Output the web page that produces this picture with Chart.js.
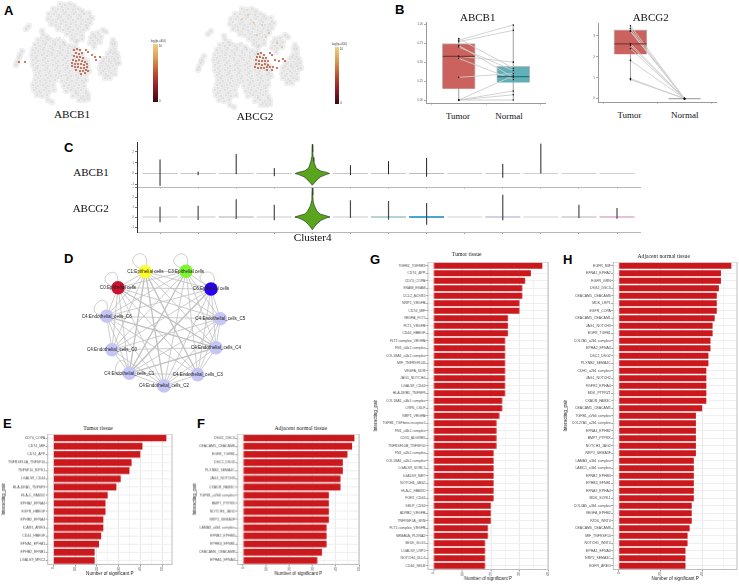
<!DOCTYPE html>
<html>
<head>
<meta charset="utf-8">
<title>ABCB1 and ABCG2</title>
<script src="https://cdn.jsdelivr.net/npm/chart.js@4"></script>
<style>
    html, body { margin: 0; padding: 0; background: #fff; }
    #page { position: relative; width: 739px; height: 584px; overflow: hidden; }
    #page canvas { position: absolute; }
    .txt { position: absolute; white-space: nowrap; line-height: 1; transform: translate(-50%, -50%); color: #111; }
    .serif { font-family: "Liberation Serif", serif; }
    .letter { font: bold 13px "Liberation Sans", sans-serif; transform: none; color: #000; }
    .bar-title { font-size: 5.7px; color: #222; }
    .tiny { font: 3px "Liberation Sans", sans-serif; color: #444; }
    .colorbar { position: absolute; width: 4.5px; background: linear-gradient(#f0cf85, #d99a55 25%, #b9512f 50%, #96202a 72%, #3a0a12); }
</style>
</head>
<body>
<div id="page"></div>
<script>
// Panel A: t-SNE map
const tsnePoints = [
    [60,4],[65,5],[70,4],[74,6],[53,9],[58,9],[63,10],[68,9],[73,10],[78,9],[82,11],
    [49,14],[54,14],[59,15],[64,14],[69,15],[74,14],[79,15],[84,14],[89,13],
    [48,19],[53,20],[58,19],[63,20],[68,19],[73,20],[78,19],[83,20],[88,19],[92,18],
    [51,24],[56,25],[61,24],[66,25],[71,24],[76,25],[81,24],[86,25],[90,23],
    [58,29],[63,30],[68,29],[73,30],[78,29],[83,30],[87,28],[67,34],[72,35],[77,34],[82,35],
    [72,39],[77,40],[82,39],[76,42],
    [93,34],[98,33],[91,38],[96,38],[101,37],[90,43],[95,43],[100,42],[94,47],
    [103,30],[106,32],[113,40],[115,44],[112,44],
    [111,50],[115,49],[108,54],[113,54],[117,54],[104,59],[109,59],[114,59],[118,58],
    [101,63],[106,64],[111,63],[116,64],[119,63],[100,68],[105,69],[110,68],[115,69],
    [101,73],[106,74],[111,73],[115,74],[105,78],[110,78],
    [43,35],[47,37],[38,40],[43,41],[48,40],[53,41],[58,40],[63,42],
    [35,45],[40,46],[45,45],[50,46],[55,45],[60,46],[65,45],[70,46],[75,47],
    [33,50],[38,51],[43,50],[48,51],[53,50],[58,51],[63,50],[68,51],[73,50],[78,50],
    [32,55],[37,56],[42,55],[47,56],[52,55],[57,56],[62,55],[67,56],[72,55],[77,56],[82,55],
    [33,60],[38,61],[43,60],[48,61],[53,60],[58,61],[63,60],[68,61],[73,60],[78,61],[83,60],[87,61],
    [33,65],[38,66],[43,65],[48,66],[53,65],[58,66],[63,65],[68,66],[73,65],[78,66],[83,65],[88,66],
    [35,70],[40,71],[45,70],[50,71],[55,70],[60,71],[65,70],[70,71],[75,70],[80,71],[85,70],[89,71],
    [36,75],[41,76],[46,75],[51,76],[56,75],[61,76],[66,75],[71,76],[76,75],[81,76],[86,75],
    [35,80],[40,81],[45,80],[50,81],[55,80],[62,81],[67,80],[72,81],[77,80],[82,81],[86,80],
    [33,85],[38,86],[43,85],[48,86],[53,85],[64,86],[69,85],[74,86],[79,85],[84,86],
    [34,90],[39,91],[44,90],[49,91],[54,90],[66,91],[71,90],[76,91],[81,90],[86,91],
    [37,95],[42,96],[47,95],[73,96],[78,95],[83,96],[88,95],[79,100],[84,100],[88,99],[48,100],[52,102],
    [22,51],[20,55],[19,58],[17,62],[16,65],[26,29],[29,26],[42,31]
];
const tsneSpecks = [
    [62,7],[56,12],[66,12],[76,12],[51,17],[61,17],[71,17],[81,17],[90,16],[56,22],[66,22],[76,22],[86,22],
    [60,27],[70,27],[80,27],[70,32],[80,32],[75,37],[95,36],[93,41],[98,40],[110,52],[115,52],[106,57],[112,57],
    [103,61],[109,61],[115,61],[102,66],[108,66],[113,66],[103,71],[109,71],[108,76],
    [41,38],[51,38],[60,38],[38,43],[46,43],[55,43],[64,43],[36,48],[44,48],[52,48],[60,48],[68,48],
    [35,53],[44,53],[52,53],[60,53],[68,53],[75,53],[36,58],[45,58],[55,58],[65,58],[75,58],[85,58],
    [36,63],[46,63],[56,63],[66,63],[76,63],[86,63],[37,68],[47,68],[57,68],[67,68],[77,68],[87,68],
    [39,73],[49,73],[59,73],[69,73],[79,73],[38,78],[48,78],[58,78],[68,78],[78,78],
    [36,83],[46,83],[66,83],[76,83],[84,83],[36,88],[46,88],[68,88],[78,88],[41,93],[76,93],[86,93],[81,98]
];
const abcb1Hot = [
    [74,50],[77,49],[80,50],[76,53],[79,54],[82,53],[74,56],[77,57],[80,57],[83,58],[73,60],[76,61],[79,60],
    [82,61],[85,62],[72,63],[75,64],[78,64],[81,64],[84,65],[87,64],[72,66],[75,67],[78,67],[81,68],[84,68],
    [87,67],[76,70],[80,71],[83,71],[86,70],[81,74],[85,73],[88,71],[86,50],[88,52],[92,55],[95,57],[100,57],
    [96,60],[19,62],[25,62]
];
const abcg2Hot = [
    [76,49],[79,48],[82,50],[75,52],[78,52],[81,53],[84,53],[74,55],[77,56],[80,56],[83,56],[86,56],[74,59],
    [77,59],[80,60],[83,59],[86,60],[73,62],[76,63],[79,63],[82,63],[85,62],[88,62],[91,62],[85,65],[90,65],
    [95,63],[88,48],[90,50],[93,55],[97,56],[101,54],[103,56]
];
const abcg2Pale = [[60,14],[72,18],[80,20],[87,28],[95,38],[100,42],[84,32],[66,10],[75,30]];

// Panel B: paired boxplots
const pairCategories = ['Tumor', 'Normal'];
const abcb1Tumor = [0.81, 0.79, 0.77, 0.72, 0.70, 0.58, 0.55, 0.30, 0, 0, 0, 0];
const abcb1Normal = [0.42, 0.99, 0.92, 0.30, 0.39, 0.50, 0.27, 0.35, 0.12, 0.07, 0.32, 0];
const abcb1Box = { q1: [0.15, 0.23], median: [0.575, 0.31], q3: [0.745, 0.445], low: [0, 0], high: [0.81, 0.99] };
const abcg2Tumor = [3.49, 3.35, 3.24, 3.22, 2.63, 2.55, 2.39, 1.83, 0.96, 0.91];
const abcg2Normal = [0, 0, 0, 0, 0, 0, 0, 0, 0, 0];
const abcg2Box = { q1: [2.12, 0], median: [2.62, 0], q3: [3.29, 0], low: [0.91, 0], high: [3.49, 0] };

// Panel C: spikes per cluster (13 clusters, Cluster4 is the violin)
const topHigh = [1.3, 0.18, 1.8, 0.5, null, 0.77, 1.14, 1.45, null, 0.9, 2.77, 0, 0];
const topLow = [-1.14, -0.15, -0.05, -0.25, null, -0.15, -0.06, -0.3, null, -0.4, 0, 0, 0];
const bottomHigh = [1.03, 1.13, 1.77, 1.23, null, 1.67, 1.6, 1.4, null, 2.23, 0, 1.23, 0.9];
const bottomLow = [-0.53, -0.3, -0.2, -0.33, null, -0.1, -0.27, -0.77, null, -0.33, 0, -0.1, -0.17];
const violinTopY = [2.7, 2.0, 1.5, 1.1, 0.8, 0.5, 0.25, 0.1, 0, -0.1, -0.3, -0.5, -0.8, -1.08];
const violinTopW = [0.005, 0.01, 0.02, 0.04, 0.07, 0.1, 0.2, 0.38, 0.45, 0.36, 0.22, 0.15, 0.07, 0];
const violinBottomY = [2.9, 2.2, 1.6, 1.2, 0.9, 0.6, 0.3, 0.1, 0, -0.1, -0.35, -0.6, -1, -1.27];
const violinBottomW = [0.004, 0.012, 0.02, 0.045, 0.08, 0.12, 0.2, 0.38, 0.46, 0.36, 0.22, 0.14, 0.05, 0];
const bottomBaseColors = ['#bbb', '#bbb', '#999', '#bbb', '#bbb', '#bbb', '#5c9f95', '#4ba6cf', '#c4c4c4', '#a7a2cf', '#c4c4c4', '#aaa', '#dcaec8'];

// Panel D: network
const nodeNames = [
    'C1:Epithelial cells', 'C3:Epithelial cells', 'C6:Epithelial cells', 'C0:Epithelial cells',
    'C4:Endothelial_cells_C6', 'C4:Endothelial_cells_C0', 'C4:Endothelial_cells_C1', 'C4:Endothelial_cells_C2',
    'C4:Endothelial_cells_C3', 'C4:Endothelial_cells_C4', 'C4:Endothelial_cells_C5'
];
const nodeX = [145.3, 186, 211, 118, 106.7, 112, 129.3, 164, 197.7, 216, 220.3];
const nodeY = [271.7, 271.3, 289, 287.7, 316.3, 349.7, 373.3, 386, 374.7, 347.7, 318.7];
const nodeColors = ['#ffff2e', '#7df52f', '#2a00ee', '#c9122f', '#c5c5f6', '#c5c5f6', '#c5c5f6', '#c5c5f6', '#c5c5f6', '#c5c5f6', '#c5c5f6'];
const edgePairs = [
    [0,1],[0,2],[0,3],[0,4],[0,5],[0,6],[0,7],[0,8],[0,9],[0,10],
    [1,2],[1,3],[1,4],[1,5],[1,6],[1,7],[1,8],[1,9],[1,10],
    [2,3],[2,4],[2,5],[2,6],[2,7],[2,8],[2,9],[2,10],
    [3,4],[3,5],[3,6],[3,7],[3,8],[3,9],[3,10],
    [4,5],[4,6],[4,7],[4,8],[4,9],[4,10],
    [5,6],[5,7],[5,9],[5,10],[6,7],[6,8],[6,9],[6,10],[7,8],[7,9],[7,10],[8,9],[8,10],[9,10]
];
const heavyEdges = [[0,7],[0,8],[1,6],[3,9],[4,9],[6,9],[2,6],[0,6]];
const selfLoops = [
    [[145,272],[133,262],[138,254],[146,258],[145,272]],
    [[186,271],[174,262],[180,254],[187,258],[186,271]],
    [[118,288],[106,282],[108,274],[116,274],[118,288]],
    [[211,289],[200,278],[207,272],[214,277],[211,289]],
    [[107,316],[95,312],[98,302],[106,302],[107,316]],
    [[129,373],[117,374],[118,362],[125,362],[129,373]]
];

// Panels E-H: interaction counts
const eLabels = ['CD74_COPA', 'CD74_MIF', 'CD74_APP', 'TNFRSF10A_TNFSF10', 'TNFSF10_RIPK1', 'LGALS9_CD44', 'HLA-DRA1_TNFSF9', 'HLA-C_FAM3C',
    'EPHA2_EFNA4', 'EGFR_HBEGF', 'EPHB2_EFNA4', 'ICAM1_AREG', 'CD44_HBEGF', 'EFNA1_EPHA1', 'EPHB2_EFNB1', 'LGALS9_MRC2'];
const eValues = [52, 41, 40, 36, 35, 31, 29, 25, 24, 24, 23, 23, 22, 21, 19, 19];
const fLabels = ['DSG2_DSC3', 'CEACAM5_CEACAM6', 'EGFR_TGFB1', 'DSC2_DSG2', 'PLXNB2_SEMA4C', 'JAG1_NOTCH3', 'CXADR_FAM3C', 'TGFB1_aVb6 complex',
    'BMP7_PTPRK', 'NOTCH3_JAG2', 'NRP2_SEMA3F', 'LAMA3_a6b1 complex', 'EFNB2_EPHB3', 'EPHB3_EFNB1', 'CEACAM6_CEACAM8', 'EPHA1_EFNA3'];
const fValues = [48, 47, 45, 43, 43, 42, 42, 37, 37, 37, 37, 36, 36, 36, 34, 32];
const gLabels = ['TGFB1_TGFBR3', 'CD74_APP', 'CD74_COPA', 'ESAM_ESAM', 'CCL2_ACKR1', 'NRP1_VEGFB', 'CD74_MIF', 'VEGFA_FLT1', 'FLT1_VEGFB', 'CD44_HBEGF',
    'FLT1 complex_VEGFA', 'FN1_a5b1 complex', 'COL18A1_a1b1 complex', 'MIF_TNFRSF10D', 'VEGFA_KDR', 'JAG1_NOTCH4', 'LGALS9_CD44', 'HLA-DRB1_TNFSF9',
    'COL18A1_a3b1 complex', 'LRP6_CKLF', 'NRP1_VEGFA', 'TGFB1_TGFbeta receptor1', 'FN1_a3b1 complex', 'CD55_ADGRE5', 'TNFRSF10B_TNFSF10', 'FN1_a2b1 complex',
    'COL18A1_a2b1 complex', 'LGALS9_SORL1', 'LGALS9_MET', 'NOTCH4_JAG2', 'HLA-C_FAM3C', 'FGF2_CD44', 'SELP_CD34', 'ADRB2_VEGFB', 'TNFRSF1A_GRN',
    'FLT1 complex_VEGFB', 'SEMA6A_PLXNA2', 'SELE_GLG1', 'LGALS9_LRP1', 'NOTCH4_DLL4', 'CD44_SELE'];
const gValues = [38, 34, 32, 31, 31, 30, 30, 26, 26, 26, 25, 25, 25, 25, 25, 25, 25, 25, 24, 24,
    23, 22, 22, 22, 22, 21, 21, 21, 21, 21, 21, 21, 20, 20, 20, 19, 19, 18, 18, 18, 18];
const hLabels = ['EGFR_MIF', 'EFNA1_EPHA2', 'EGFR_GRN', 'DSG2_DSC3', 'CEACAM5_CEACAM6', 'MDK_LRP1', 'EGFR_COPA', 'CEACAM5_CEACAM1', 'JAG1_NOTCH3', 'EGFR_TGFB1',
    'COL7A1_a2b1 complex', 'EPHA2_EFNA3', 'DSC2_DSG2', 'PLXNB2_SEMA4C', 'CDH1_a2b1 complex', 'JAG1_NOTCH2', 'FGFR2_EPHA4', 'MDK_PTPRZ1', 'CXADR_FAM3C', 'CEACAM1_CEACAM5',
    'TGFB1_aVb6 complex', 'COL27A1_a2b1 complex', 'EFNA4_EPHB2', 'BMP7_PTPRK', 'NOTCH3_JAG2', 'NRP2_SEMA3F', 'LAMA3_a3b1 complex', 'LAMC1_a3b1 complex', 'EFNB2_EPHB3',
    'EPHB3_EFNB1', 'EFNA3_EPHA4', 'MDK_SORL1', 'COL4A5_a3b1 complex', 'VEGFA_EPHB2', 'FZD6_WNT4', 'CEACAM6_CEACAM8', 'MIF_TNFRSF14', 'NOTCH1_WNT4', 'EPHA1_EFNA3',
    'NRP2_SEMA3C', 'EGFR_AREG'];
const hValues = [54, 49, 49, 48, 47, 47, 47, 46, 45, 45, 44, 44, 43, 43, 42, 42, 42, 42, 42, 40,
    37, 37, 37, 37, 37, 37, 36, 36, 36, 36, 36, 36, 35, 35, 35, 34, 33, 33, 32, 32, 32];

const page = document.getElementById('page');
const SANS = '"Liberation Sans", sans-serif';

Chart.defaults.animation = false;
Chart.defaults.responsive = false;
Chart.defaults.plugins.legend.display = false;
Chart.defaults.plugins.tooltip.enabled = false;
// big point radii must not shrink the plot areas
Chart.defaults.layout.autoPadding = false;

function addCanvas(left, top, width, height) {
    const canvas = document.createElement('canvas');
    canvas.width = width;
    canvas.height = height;
    canvas.style.left = left + 'px';
    canvas.style.top = top + 'px';
    canvas.style.width = width + 'px';
    canvas.style.height = height + 'px';
    page.appendChild(canvas);
    return canvas;
}

function addText(text, x, y, className, fontSize) {
    const el = document.createElement('div');
    el.className = 'txt ' + className;
    el.textContent = text;
    el.style.left = x + 'px';
    el.style.top = y + 'px';
    if (fontSize) {
        el.style.fontSize = fontSize + 'px';
    }
    page.appendChild(el);
}

// pins an axis to a fixed thickness so the plot area lands where the reference has it
function pinAxis(size) {
    return (scale) => {
        if (scale.isHorizontal()) {
            scale.height = size;
        } else {
            scale.width = size;
        }
        scale.paddingLeft = scale.paddingRight = scale.paddingTop = scale.paddingBottom = 0;
    };
}

const plotBorder = {
    id: 'plotBorder',
    afterDatasetsDraw(chart) {
        const { ctx, chartArea: a } = chart;
        ctx.save();
        ctx.strokeStyle = '#bdbdbd';
        ctx.lineWidth = 1;
        ctx.strokeRect(a.left, a.top, a.right - a.left, a.bottom - a.top);
        ctx.restore();
    },
};

const toPoints = (list) => list.map(([x, y]) => ({ x, y }));

function mapChart(left, top, hot, pale) {
    const datasets = [{ data: toPoints(hot), pointRadius: 1, pointBackgroundColor: '#b5502f', order: 0 }];
    if (pale) {
        datasets.push({ data: toPoints(pale), pointRadius: 0.8, pointBackgroundColor: '#dfa877', order: 1 });
    }
    datasets.push({ data: toPoints(tsnePoints), pointRadius: 0.7, pointBackgroundColor: 'rgba(175,175,175,0.65)', order: 2 });
    datasets.push({ data: toPoints(tsneSpecks), pointRadius: 0.7, pointBackgroundColor: 'rgba(185,185,185,0.6)', order: 2 });
    datasets.push({ data: toPoints(tsnePoints), pointRadius: 3.3, pointBackgroundColor: 'rgba(226,226,226,0.55)', order: 3 });
    datasets.forEach((d) => { d.showLine = false; d.pointBorderWidth = 0; });
    new Chart(addCanvas(left, top, 125, 108), {
        type: 'scatter',
        data: { datasets },
        options: {
            scales: {
                x: { display: false, min: 0, max: 125 },
                y: { display: false, min: 0, max: 108, reverse: true },
            },
        },
    });
}

function pairedChart(left, top, width, height, axisH, cfg) {
    const { tumor, normal, box, yMin, yMax, step, tickLabel } = cfg;
    const pairLines = tumor.map((t, i) => ({
        type: 'line',
        data: [{ x: 1, y: t }, { x: 2, y: normal[i] }],
        borderColor: 'rgba(205,205,205,0.9)',
        borderWidth: 1,
        pointRadius: 0,
        order: 1,
    }));
    const whisker = (i) => ({
        type: 'line',
        data: [{ x: i + 1, y: box.low[i] }, { x: i + 1, y: box.high[i] }],
        borderColor: '#888',
        borderWidth: 0.8,
        pointRadius: 0,
        order: 3,
    });
    new Chart(addCanvas(left, top, width, height), {
        type: 'bar',
        data: {
            datasets: [
                {
                    type: 'line',
                    data: tumor.map((y) => ({ x: 1, y })).concat(normal.map((y) => ({ x: 2, y }))),
                    showLine: false,
                    pointRadius: 0.8,
                    pointBackgroundColor: '#111',
                    pointBorderWidth: 0,
                    order: 0,
                },
                {
                    type: 'line',
                    data: box.median.map((y, i) => ({ x: i + 1, y })),
                    showLine: false,
                    pointStyle: 'line',
                    pointRadius: 16,
                    pointBorderColor: ['#7a3a38', box.q3[1] > 0 ? '#2f6f76' : '#aaa'],
                    pointBorderWidth: 1.2,
                    order: 0,
                },
                ...pairLines,
                {
                    data: box.q1.map((q, i) => ({ x: i + 1, y: [q, box.q3[i]] })),
                    backgroundColor: ['#cc625e', '#5fb0b8'],
                    borderColor: '#bbb',
                    borderWidth: 1,
                    barThickness: 33,
                    order: 2,
                },
                whisker(0),
                whisker(1),
            ],
        },
        options: {
            layout: { padding: { top: 0, right: 0 } },
            scales: {
                x: {
                    type: 'linear',
                    offset: false,
                    min: 0.4,
                    max: 2.6,
                    afterFit: pinAxis(axisH),
                    border: { color: '#9a9a9a', width: 1 },
                    grid: { drawOnChartArea: false, tickLength: 2, tickColor: '#ccc' },
                    // category names are placed as text below
                    ticks: { stepSize: 1, includeBounds: false, maxRotation: 0, font: { size: 1 }, callback: () => '' },
                },
                y: {
                    min: yMin,
                    max: yMax,
                    afterFit: pinAxis(12),
                    border: { color: '#9a9a9a', width: 1 },
                    grid: { drawOnChartArea: false, tickLength: 2, tickColor: '#aaa' },
                    ticks: {
                        stepSize: step,
                        includeBounds: false,
                        padding: 1,
                        color: '#666',
                        font: { family: SANS, size: 3 },
                        callback: tickLabel,
                    },
                },
            },
        },
    });
}

function violinChart(left, top, width, height, axisH, cfg) {
    const { high, low, vY, vW, baseColors, yMin, yMax, baseWidths } = cfg;
    const datasets = [];
    const spikes = [];
    high.forEach((h, i) => {
        if (h !== null && h !== low[i]) {
            spikes.push({ x: i, y: low[i] }, { x: i, y: h }, { x: i, y: null });
        }
    });
    datasets.push({ data: spikes, showLine: true, borderColor: cfg.spikeColor, borderWidth: cfg.spikeWidth, pointRadius: 0, spanGaps: false, order: 1 });
    const shape = vY.map((y, k) => ({ x: 4 + vW[k], y })).concat(
        vY.map((y, k) => ({ x: 4 - vW[k], y })).reverse());
    datasets.push({ data: shape, showLine: true, fill: 'shape', backgroundColor: '#5aa51e', borderColor: '#2d3d1c', borderWidth: 0.7, pointRadius: 0, tension: 0, order: 0 });
    high.forEach((h, i) => {
        datasets.push({
            data: [{ x: i - 0.46, y: 0 }, { x: i + 0.46, y: 0 }],
            showLine: true,
            borderColor: baseColors[i],
            borderWidth: baseWidths[i],
            pointRadius: 0,
            order: 2,
        });
    });
    new Chart(addCanvas(left, top, width, height), {
        type: 'scatter',
        data: { datasets },
        options: {
            scales: {
                x: {
                    min: -0.605,
                    max: 12.63,
                    afterFit: pinAxis(axisH),
                    border: { color: '#b8b8b8', width: 1 },
                    grid: { drawOnChartArea: false, tickLength: 1.5, tickColor: '#999' },
                    ticks: { stepSize: 1, includeBounds: false, font: { size: 1 }, padding: 0, maxRotation: 0, autoSkip: false, callback: () => '' },
                },
                y: {
                    min: yMin,
                    max: yMax,
                    afterFit: pinAxis(12),
                    border: { color: '#333', width: 1 },
                    grid: { drawOnChartArea: false, tickLength: 2, tickColor: '#777' },
                    ticks: { stepSize: 1, includeBounds: false, padding: 1, color: '#666', font: { family: SANS, size: 3 } },
                },
            },
        },
    });
}

function networkChart() {
    const nodeLabels = {
        id: 'nodeLabels',
        afterDatasetsDraw(chart) {
            const { ctx, scales } = chart;
            ctx.save();
            ctx.font = '4.6px ' + SANS;
            ctx.fillStyle = '#222';
            ctx.textAlign = 'center';
            ctx.textBaseline = 'middle';
            nodeNames.forEach((name, i) => {
                ctx.fillText(name, scales.x.getPixelForValue(nodeX[i]), scales.y.getPixelForValue(nodeY[i]));
            });
            ctx.restore();
        },
    };
    const isHeavy = (a, b) => heavyEdges.some(([p, q]) => p === a && q === b);
    const edges = edgePairs.map(([a, b]) => ({
        data: [{ x: nodeX[a], y: nodeY[a] }, { x: nodeX[b], y: nodeY[b] }],
        showLine: true,
        borderColor: '#c0c0c0',
        borderWidth: isHeavy(a, b) ? 1.3 : 0.8,
        pointRadius: 0,
        order: 2,
    }));
    const loops = selfLoops.map((loop) => ({
        data: toPoints(loop),
        showLine: true,
        borderColor: '#c0c0c0',
        borderWidth: 0.8,
        tension: 0.5,
        pointRadius: 0,
        order: 2,
    }));
    new Chart(addCanvas(60, 245, 210, 165), {
        type: 'scatter',
        data: {
            datasets: [{
                data: nodeX.map((x, i) => ({ x, y: nodeY[i] })),
                pointRadius: 6.8,
                pointBorderWidth: 0,
                pointBackgroundColor: nodeColors,
                order: 0,
            }, ...edges, ...loops],
        },
        options: {
            scales: {
                x: { display: false, min: 60, max: 270 },
                y: { display: false, min: 245, max: 410, reverse: true },
            },
        },
        plugins: [nodeLabels],
    });
}

function barPanel(cfg) {
    const { left, boxLeft, boxRight, boxTop, boxBottom, labels, values, xMin, xMax, minorStep, majorStep } = cfg;
    const axisW = boxLeft - left;
    const axisH = 11.5;
    const isMajor = (v) => v % majorStep === 0;
    new Chart(addCanvas(left, boxTop, boxRight - left + 1, boxBottom - boxTop + axisH), {
        type: 'bar',
        data: {
            labels,
            datasets: [{ data: values, backgroundColor: '#cb181d', barPercentage: 0.82, categoryPercentage: 1 }],
        },
        options: {
            indexAxis: 'y',
            layout: { padding: { right: 1, top: 0 } },
            scales: {
                x: {
                    type: 'linear',
                    min: xMin,
                    max: xMax,
                    afterFit: pinAxis(axisH),
                    border: { display: false },
                    title: { display: true, text: 'Number of significant P', font: { family: SANS, size: 4.6 }, color: '#222', padding: 0 },
                    grid: {
                        tickLength: 2,
                        color: (c) => (isMajor(c.tick.value) ? '#e8e8e8' : '#f4f4f4'),
                        tickColor: (c) => (isMajor(c.tick.value) ? '#999' : 'transparent'),
                    },
                    ticks: {
                        stepSize: minorStep,
                        includeBounds: false,
                        autoSkip: false,
                        minRotation: 90,
                        maxRotation: 90,
                        padding: 0.5,
                        color: '#4d4d4d',
                        font: { family: SANS, size: 3.5 },
                        callback: (v) => (isMajor(v) ? v : ''),
                    },
                },
                y: {
                    afterFit: pinAxis(axisW),
                    border: { display: false },
                    title: { display: true, text: 'Interacting_pair', font: { family: SANS, size: 4.6 }, color: '#222', padding: 0 },
                    grid: { offset: false, tickLength: 2, color: '#efefef', tickColor: '#999' },
                    ticks: { autoSkip: false, padding: 0.5, color: '#4d4d4d', font: { family: SANS, size: 3.5 } },
                },
            },
        },
        plugins: [plotBorder],
    });
    addText(cfg.title, cfg.titleX, cfg.titleY, 'serif bar-title');
}

// panel letters
[['A', 4, 3], ['B', 395, 2], ['C', 64, 140], ['D', 64, 251], ['E', 3, 416], ['F', 197, 416], ['G', 370, 252], ['H', 563, 252]].forEach(([t, x, y]) => {
    const el = document.createElement('div');
    el.className = 'txt letter';
    el.textContent = t;
    el.style.left = x + 'px';
    el.style.top = y + 'px';
    page.appendChild(el);
});

// A
mapChart(0, 0, abcb1Hot);
mapChart(182, 5, abcg2Hot, abcg2Pale);
addText('ABCB1', 72, 115, 'serif', 11.2);
addText('ABCG2', 255, 116.7, 'serif', 11.2);
[[153.3, 44, 58], [334.5, 47, 57]].forEach(([x, y, h]) => {
    const bar = document.createElement('div');
    bar.className = 'colorbar';
    bar.style.left = x + 'px';
    bar.style.top = y + 'px';
    bar.style.height = h + 'px';
    page.appendChild(bar);
    addText('log(tp+400)', x + 5, y - 3, 'tiny');
    addText('10', x + 7, y + 2, 'tiny');
    addText('0', x + 6.5, y + h - 1, 'tiny');
});

// B
pairedChart(414, 21.7, 132, 85, 3.7, {
    tumor: abcb1Tumor, normal: abcb1Normal, box: abcb1Box, yMin: -0.043, yMax: 1.03, step: 0.25,
    tickLabel: (v) => v.toFixed(2),
});
pairedChart(586, 22.7, 131, 83, 4, {
    tumor: abcg2Tumor, normal: abcg2Normal, box: abcg2Box, yMin: -0.16, yMax: 3.62, step: 1,
    tickLabel: (v) => v,
});
addText('ABCB1', 477.7, 17, 'serif', 11);
addText('ABCG2', 650.7, 17, 'serif', 11);
addText(pairCategories[0], 458, 116, 'serif', 9);
addText(pairCategories[1], 509, 116, 'serif', 9);
addText(pairCategories[0], 629.5, 115.3, 'serif', 9);
addText(pairCategories[1], 684.7, 114.7, 'serif', 9);

// C
violinChart(125, 142, 516, 47, 2, {
    high: topHigh, low: topLow, vY: violinTopY, vW: violinTopW, yMin: -1.25, yMax: 2.92, spikeColor: '#222', spikeWidth: 1,
    baseColors: ['#bbb', '#bbb', '#bbb', '#bbb', '#bbb', '#bbb', '#bbb', '#aaa', '#c4c4c4', '#bbb', '#c4c4c4', '#c4c4c4', '#c4c4c4'],
    baseWidths: Array(13).fill(0.8),
});
violinChart(125, 187, 516, 48, 2.5, {
    high: bottomHigh, low: bottomLow, vY: violinBottomY, vW: violinBottomW, yMin: -1.55, yMax: 3, spikeColor: '#4a4a4a', spikeWidth: 1.2,
    baseColors: bottomBaseColors,
    baseWidths: [0.8, 0.8, 0.8, 0.8, 0.8, 0.8, 0.9, 2, 0.8, 1, 0.8, 0.9, 1.6],
});
addText('ABCB1', 91, 171.7, 'serif', 11);
addText('ABCG2', 90.7, 208, 'serif', 11);
addText('Cluster4', 312.7, 238.3, 'serif', 11.2);

// D
networkChart();

// E-H
barPanel({
    left: 1, boxLeft: 47.7, boxRight: 172.3, boxTop: 434, boxBottom: 564, labels: eLabels, values: eValues,
    xMin: -2.6, xMax: 54.6, minorStep: 5, majorStep: 10, title: 'Tumor tissue', titleX: 98, titleY: 428.7,
});
barPanel({
    left: 192, boxLeft: 237.3, boxRight: 358.5, boxTop: 434, boxBottom: 564, labels: fLabels, values: fValues,
    xMin: -2.4, xMax: 50, minorStep: 5, majorStep: 10, title: 'Adjacent normal tissue', titleX: 300.7, titleY: 428.7,
});
barPanel({
    left: 373, boxLeft: 427.7, boxRight: 547.7, boxTop: 261.7, boxBottom: 570, labels: gLabels, values: gValues,
    xMin: -1.9, xMax: 40, minorStep: 5, majorStep: 10, title: 'Tumor tissue', titleX: 466.7, titleY: 255,
});
barPanel({
    left: 563, boxLeft: 613.3, boxRight: 737.3, boxTop: 261.7, boxBottom: 570, labels: hLabels, values: hValues,
    xMin: -2.6, xMax: 56.7, minorStep: 10, majorStep: 20, title: 'Adjacent normal tissue', titleX: 663.7, titleY: 256.5,
});
</script>
</body>
</html>
